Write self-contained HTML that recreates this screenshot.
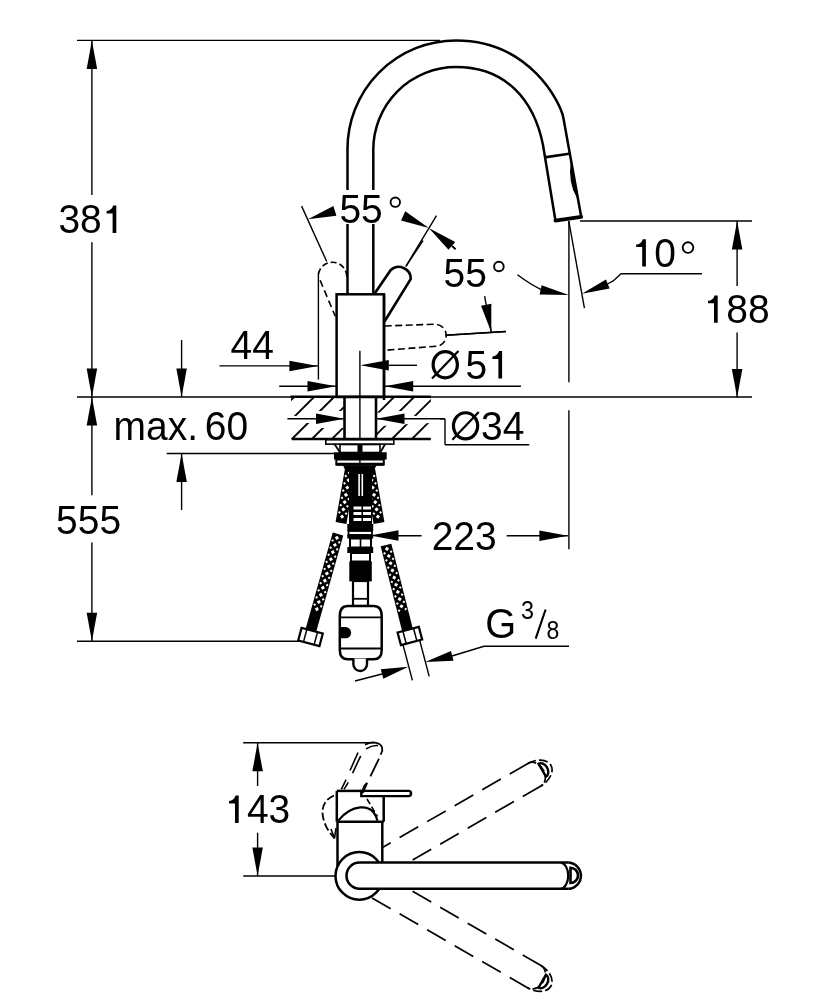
<!DOCTYPE html>
<html><head><meta charset="utf-8"><style>
html,body{margin:0;padding:0;background:#fff;}
svg{display:block;will-change:transform;}
text{font-family:"Liberation Sans",sans-serif;fill:#000;stroke:none;}
</style></head><body>
<svg width="834" height="1000" viewBox="0 0 834 1000" stroke="#000" fill="none">
<rect x="0" y="0" width="834" height="1000" fill="#fff" stroke="none"/>
<line x1="77.00" y1="40.40" x2="440.00" y2="40.40" stroke-width="1.4" />
<line x1="91.90" y1="40.40" x2="91.90" y2="195.00" stroke-width="1.4" />
<line x1="91.90" y1="242.30" x2="91.90" y2="397.00" stroke-width="1.4" />
<polygon points="91.90,40.40 97.15,68.90 86.65,68.90" fill="#000" stroke="none" />
<polygon points="91.90,397.00 86.65,368.50 97.15,368.50" fill="#000" stroke="none" />
<line x1="77.00" y1="397.00" x2="752.00" y2="397.00" stroke-width="1.4" />
<line x1="91.90" y1="397.00" x2="91.90" y2="495.30" stroke-width="1.4" />
<line x1="91.90" y1="542.50" x2="91.90" y2="641.30" stroke-width="1.4" />
<polygon points="91.90,397.00 97.15,425.50 86.65,425.50" fill="#000" stroke="none" />
<polygon points="91.90,641.30 86.65,612.80 97.15,612.80" fill="#000" stroke="none" />
<line x1="77.00" y1="641.30" x2="302.00" y2="641.30" stroke-width="1.4" />
<line x1="181.60" y1="340.00" x2="181.60" y2="397.00" stroke-width="1.4" />
<polygon points="181.60,397.00 176.35,368.50 186.85,368.50" fill="#000" stroke="none" />
<line x1="181.60" y1="453.50" x2="181.60" y2="510.00" stroke-width="1.4" />
<polygon points="181.60,453.50 186.85,482.00 176.35,482.00" fill="#000" stroke="none" />
<line x1="166.70" y1="453.50" x2="334.00" y2="453.50" stroke-width="1.4" />
<line x1="219.40" y1="365.90" x2="317.90" y2="365.90" stroke-width="1.4" />
<polygon points="317.90,365.90 289.40,371.15 289.40,360.65" fill="#000" stroke="none" />
<line x1="318.40" y1="273.00" x2="318.40" y2="379.50" stroke-width="1.4" />
<line x1="359.90" y1="350.80" x2="359.90" y2="470.00" stroke-width="1.4" />
<line x1="389.00" y1="365.30" x2="417.00" y2="365.30" stroke-width="1.4" />
<polygon points="360.30,365.30 388.80,360.05 388.80,370.55" fill="#000" stroke="none" />
<line x1="279.20" y1="386.20" x2="336.00" y2="386.20" stroke-width="1.4" />
<polygon points="336.00,386.20 307.50,391.45 307.50,380.95" fill="#000" stroke="none" />
<line x1="384.70" y1="386.20" x2="520.90" y2="386.20" stroke-width="1.4" />
<polygon points="384.70,386.20 413.20,380.95 413.20,391.45" fill="#000" stroke="none" />
<line x1="287.40" y1="418.80" x2="344.50" y2="418.80" stroke-width="1.4" />
<line x1="376.00" y1="418.80" x2="445.00" y2="418.80" stroke-width="1.4" />
<line x1="445.00" y1="418.80" x2="445.00" y2="444.70" stroke-width="1.4" />
<line x1="445.00" y1="444.70" x2="529.30" y2="444.70" stroke-width="1.4" />
<line x1="580.00" y1="221.00" x2="752.00" y2="221.00" stroke-width="1.4" />
<line x1="737.10" y1="221.00" x2="737.10" y2="286.10" stroke-width="1.4" />
<line x1="737.10" y1="332.40" x2="737.10" y2="397.50" stroke-width="1.4" />
<polygon points="737.10,221.00 742.35,249.50 731.85,249.50" fill="#000" stroke="none" />
<polygon points="737.10,397.50 731.85,369.00 742.35,369.00" fill="#000" stroke="none" />
<line x1="568.90" y1="221.00" x2="568.90" y2="382.30" stroke-width="1.4" />
<line x1="568.90" y1="410.30" x2="568.90" y2="549.20" stroke-width="1.4" />
<line x1="568.80" y1="221.00" x2="584.40" y2="308.20" stroke-width="1.4" />
<line x1="388.60" y1="535.80" x2="421.60" y2="535.80" stroke-width="1.4" />
<line x1="506.70" y1="535.80" x2="567.90" y2="535.80" stroke-width="1.4" />
<polygon points="567.90,535.80 539.40,541.05 539.40,530.55" fill="#000" stroke="none" />
<circle cx="688" cy="247.6" r="5.3" stroke-width="1.9" fill="none" />
<polyline points="607.50,284.00 613.20,280.90 621.00,273.70 702.00,273.70" stroke-width="1.4" fill="none" />
<polygon points="581.90,293.80 606.00,279.40 609.60,288.40" fill="#000" stroke="none" />
<path d="M517.4,274.7 Q530,284 541.2,289.6" stroke-width="1.4" fill="none" />
<polygon points="568.80,295.00 541.60,285.30 539.60,294.60" fill="#000" stroke="none" />
<circle cx="395.3" cy="202.2" r="4.7" stroke-width="1.9" fill="none" />
<line x1="301.60" y1="206.10" x2="326.70" y2="261.50" stroke-width="1.4" />
<polygon points="307.90,219.30 333.40,206.10 336.40,215.70" fill="#000" stroke="none" />
<line x1="436.50" y1="215.60" x2="406.00" y2="266.00" stroke-width="1.4" />
<polygon points="428.80,228.10 405.30,211.30 401.00,220.40" fill="#000" stroke="none" />
<polygon points="428.80,228.10 455.20,242.00 448.50,249.70" fill="#000" stroke="none" />
<line x1="452.00" y1="246.00" x2="455.70" y2="249.20" stroke-width="1.8" />
<circle cx="498.9" cy="266.5" r="4.8" stroke-width="1.9" fill="none" />
<line x1="484.60" y1="296.10" x2="491.30" y2="332.20" stroke-width="1.4" />
<polygon points="491.30,332.20 481.03,305.63 491.35,303.71" fill="#000" stroke="none" />
<line x1="445.50" y1="335.20" x2="505.90" y2="331.50" stroke-width="1.4" />
<path d="M347.5,294.3 L347.5,150 A108.5,108.5 0 0 1 456,40.5 C530,40.5 560.8,103.2 563.4,118 L581.2,216.7" stroke-width="2.5" fill="none" />
<path d="M373.3,294.3 L373.3,150 A82.7,82.7 0 0 1 456,67 C506,67 534,100 543,145 L555.4,220.3" stroke-width="2.5" fill="none" />
<line x1="544.60" y1="157.40" x2="569.20" y2="153.80" stroke-width="2.6" />
<path d="M555.4,220.6 L581.2,216.9" stroke-width="3.8" fill="none" stroke-linecap="round"/>
<path d="M571.3,162 Q568.6,183 577.2,197 L571.3,162 Z" stroke-width="1.2" fill="#000" />
<rect x="336.6" y="294.3" width="47.4" height="102.7" stroke-width="2.5" fill="none" />
<path d="M375,293 L390.6,270.2 A12,12 0 0 1 410.8,279 L384.5,321.5" stroke-width="2.6" fill="none" />
<line x1="405.80" y1="266.60" x2="423.00" y2="240.50" stroke-width="1.4" />
<path d="M318.4,274 A13,13 0 0 1 346.5,279" stroke-width="1.6" fill="none" stroke-dasharray="6 3"/>
<path d="M320.1,280.3 L335.3,316.3" stroke-width="1.6" fill="none" stroke-dasharray="7 4"/>
<path d="M384.7,326 L433.7,324.3 A11.2,11.2 0 0 1 438.7,346 L384.7,350.3" stroke-width="1.6" fill="none" stroke-dasharray="7 3.5"/>
<line x1="445.50" y1="335.20" x2="505.90" y2="331.50" stroke-width="1.4" />
<clipPath id="slabL"><rect x="291" y="397" width="53.5" height="42"/></clipPath>
<clipPath id="slabR"><rect x="376" y="397" width="54.8" height="42"/></clipPath>
<g stroke-width="1.9" clip-path="url(#slabL)"><line x1="252" y1="439" x2="294" y2="397"/><line x1="272" y1="439" x2="314" y2="397"/><line x1="292" y1="439" x2="334" y2="397"/><line x1="312" y1="439" x2="354" y2="397"/><line x1="332" y1="439" x2="374" y2="397"/><line x1="352" y1="439" x2="394" y2="397"/><line x1="372" y1="439" x2="414" y2="397"/><line x1="392" y1="439" x2="434" y2="397"/><line x1="412" y1="439" x2="454" y2="397"/><line x1="432" y1="439" x2="474" y2="397"/></g>
<g stroke-width="1.9" clip-path="url(#slabR)"><line x1="252" y1="439" x2="294" y2="397"/><line x1="272" y1="439" x2="314" y2="397"/><line x1="292" y1="439" x2="334" y2="397"/><line x1="312" y1="439" x2="354" y2="397"/><line x1="332" y1="439" x2="374" y2="397"/><line x1="352" y1="439" x2="394" y2="397"/><line x1="372" y1="439" x2="414" y2="397"/><line x1="392" y1="439" x2="434" y2="397"/><line x1="412" y1="439" x2="454" y2="397"/><line x1="432" y1="439" x2="474" y2="397"/></g>
<polygon points="285,416 312,416 316,411 346,411 346,428 316,428 312,423 285,423" fill="#fff" stroke="none"/>
<polygon points="374,413 404,410.8 412,416 440,416 440,422.5 406,424.2 386,425.8 374,425.8" fill="#fff" stroke="none"/>
<line x1="287.40" y1="418.80" x2="344.50" y2="418.80" stroke-width="1.4" />
<line x1="376.00" y1="418.80" x2="445.00" y2="418.80" stroke-width="1.4" />
<polygon points="344.50,418.80 316.00,424.05 316.00,413.55" fill="#000" stroke="none" />
<polygon points="376.00,418.80 404.50,413.55 404.50,424.05" fill="#000" stroke="none" />
<line x1="290.50" y1="396.70" x2="430.80" y2="396.70" stroke-width="2.6" />
<line x1="291.60" y1="439.00" x2="430.80" y2="439.00" stroke-width="2.6" />
<line x1="344.50" y1="397.00" x2="344.50" y2="439.00" stroke-width="2.6" />
<line x1="376.00" y1="397.00" x2="376.00" y2="439.00" stroke-width="2.6" />
<line x1="384.00" y1="294.00" x2="384.00" y2="400.00" stroke-width="2.5" />
<rect x="325.8" y="439.8" width="68" height="4.3" stroke-width="1.6" fill="#fff" />
<polyline points="334.40,444.00 340.00,452.30" stroke-width="1.8" fill="none" />
<polyline points="385.20,444.00 380.40,452.30" stroke-width="1.8" fill="none" />
<rect x="340" y="444.5" width="40" height="8" stroke-width="1.6" fill="none" />
<polygon points="357.50,444.00 362.50,444.00 362.50,452.30 357.50,452.30" fill="#000" stroke="none" />
<polygon points="334.00,452.30 386.70,452.30 386.70,459.50 334.00,459.50" fill="#000" stroke="none" />
<rect x="336.3" y="459.5" width="47.5" height="5" stroke-width="2" fill="none" />
<polygon points="336.30,462.80 383.80,462.80 383.80,465.70 336.30,465.70" fill="#000" stroke="none" />
<polygon points="343.00,465.50 376.70,465.50 374.00,469.50 345.00,469.50" fill="#000" stroke="none" />
<polygon points="345.08,468.05 335.58,522.05 346.42,523.95 355.92,469.95" fill="#000" stroke="none" />
<rect x="348.31" y="471.44" width="3" height="3" fill="#fff" stroke="none" transform="rotate(144.98 349.81 472.94)"/>
<rect x="351.51" y="476.17" width="2" height="2" fill="#fff" stroke="none" transform="rotate(144.98 352.51 477.17)"/>
<rect x="344.82" y="474.99" width="2" height="2" fill="#fff" stroke="none" transform="rotate(144.98 345.82 475.99)"/>
<rect x="347.02" y="478.73" width="3" height="3" fill="#fff" stroke="none" transform="rotate(144.98 348.52 480.23)"/>
<rect x="350.23" y="483.46" width="2" height="2" fill="#fff" stroke="none" transform="rotate(144.98 351.23 484.46)"/>
<rect x="343.54" y="482.28" width="2" height="2" fill="#fff" stroke="none" transform="rotate(144.98 344.54 483.28)"/>
<rect x="345.74" y="486.02" width="3" height="3" fill="#fff" stroke="none" transform="rotate(144.98 347.24 487.52)"/>
<rect x="348.95" y="490.75" width="2" height="2" fill="#fff" stroke="none" transform="rotate(144.98 349.95 491.75)"/>
<rect x="342.25" y="489.57" width="2" height="2" fill="#fff" stroke="none" transform="rotate(144.98 343.25 490.57)"/>
<rect x="344.46" y="493.30" width="3" height="3" fill="#fff" stroke="none" transform="rotate(144.98 345.96 494.80)"/>
<rect x="347.67" y="498.04" width="2" height="2" fill="#fff" stroke="none" transform="rotate(144.98 348.67 499.04)"/>
<rect x="340.97" y="496.86" width="2" height="2" fill="#fff" stroke="none" transform="rotate(144.98 341.97 497.86)"/>
<rect x="343.18" y="500.59" width="3" height="3" fill="#fff" stroke="none" transform="rotate(144.98 344.68 502.09)"/>
<rect x="346.39" y="505.32" width="2" height="2" fill="#fff" stroke="none" transform="rotate(144.98 347.39 506.32)"/>
<rect x="339.69" y="504.15" width="2" height="2" fill="#fff" stroke="none" transform="rotate(144.98 340.69 505.15)"/>
<rect x="341.90" y="507.88" width="3" height="3" fill="#fff" stroke="none" transform="rotate(144.98 343.40 509.38)"/>
<rect x="345.10" y="512.61" width="2" height="2" fill="#fff" stroke="none" transform="rotate(144.98 346.10 513.61)"/>
<rect x="338.41" y="511.43" width="2" height="2" fill="#fff" stroke="none" transform="rotate(144.98 339.41 512.43)"/>
<rect x="340.61" y="515.17" width="3" height="3" fill="#fff" stroke="none" transform="rotate(144.98 342.11 516.67)"/>
<polygon points="364.08,469.95 373.58,523.95 384.42,522.05 374.92,468.05" fill="#000" stroke="none" />
<rect x="368.69" y="471.44" width="3" height="3" fill="#fff" stroke="none" transform="rotate(125.02 370.19 472.94)"/>
<rect x="373.18" y="474.99" width="2" height="2" fill="#fff" stroke="none" transform="rotate(125.02 374.18 475.99)"/>
<rect x="366.49" y="476.17" width="2" height="2" fill="#fff" stroke="none" transform="rotate(125.02 367.49 477.17)"/>
<rect x="369.98" y="478.73" width="3" height="3" fill="#fff" stroke="none" transform="rotate(125.02 371.48 480.23)"/>
<rect x="374.46" y="482.28" width="2" height="2" fill="#fff" stroke="none" transform="rotate(125.02 375.46 483.28)"/>
<rect x="367.77" y="483.46" width="2" height="2" fill="#fff" stroke="none" transform="rotate(125.02 368.77 484.46)"/>
<rect x="371.26" y="486.02" width="3" height="3" fill="#fff" stroke="none" transform="rotate(125.02 372.76 487.52)"/>
<rect x="375.75" y="489.57" width="2" height="2" fill="#fff" stroke="none" transform="rotate(125.02 376.75 490.57)"/>
<rect x="369.05" y="490.75" width="2" height="2" fill="#fff" stroke="none" transform="rotate(125.02 370.05 491.75)"/>
<rect x="372.54" y="493.30" width="3" height="3" fill="#fff" stroke="none" transform="rotate(125.02 374.04 494.80)"/>
<rect x="377.03" y="496.86" width="2" height="2" fill="#fff" stroke="none" transform="rotate(125.02 378.03 497.86)"/>
<rect x="370.33" y="498.04" width="2" height="2" fill="#fff" stroke="none" transform="rotate(125.02 371.33 499.04)"/>
<rect x="373.82" y="500.59" width="3" height="3" fill="#fff" stroke="none" transform="rotate(125.02 375.32 502.09)"/>
<rect x="378.31" y="504.15" width="2" height="2" fill="#fff" stroke="none" transform="rotate(125.02 379.31 505.15)"/>
<rect x="371.61" y="505.32" width="2" height="2" fill="#fff" stroke="none" transform="rotate(125.02 372.61 506.32)"/>
<rect x="375.10" y="507.88" width="3" height="3" fill="#fff" stroke="none" transform="rotate(125.02 376.60 509.38)"/>
<rect x="379.59" y="511.43" width="2" height="2" fill="#fff" stroke="none" transform="rotate(125.02 380.59 512.43)"/>
<rect x="372.90" y="512.61" width="2" height="2" fill="#fff" stroke="none" transform="rotate(125.02 373.90 513.61)"/>
<rect x="376.39" y="515.17" width="3" height="3" fill="#fff" stroke="none" transform="rotate(125.02 377.89 516.67)"/>
<polygon points="349.00,469.00 372.00,469.00 372.00,524.00 349.00,524.00" fill="#000" stroke="none" />
<rect x="353.5" y="506.5" width="8" height="3" stroke-width="0" fill="#fff" />
<rect x="363" y="506.5" width="8" height="3" stroke-width="0" fill="#fff" />
<rect x="353.5" y="512" width="8" height="3" stroke-width="0" fill="#fff" />
<rect x="363" y="512" width="8" height="3" stroke-width="0" fill="#fff" />
<rect x="353.5" y="518" width="8" height="3" stroke-width="0" fill="#fff" />
<rect x="363" y="518" width="8" height="3" stroke-width="0" fill="#fff" />
<rect x="358.3" y="474" width="1.6" height="22" stroke-width="0" fill="#fff" />
<rect x="361.5" y="474" width="1.6" height="22" stroke-width="0" fill="#fff" />
<polygon points="347.30,524.00 373.20,524.00 373.20,531.00 347.30,531.00" fill="#000" stroke="none" />
<rect x="348.5" y="531" width="23.5" height="4" stroke-width="1.8" fill="#fff" />
<polygon points="347.30,534.50 373.20,534.50 373.20,538.50 347.30,538.50" fill="#000" stroke="none" />
<rect x="350" y="538.5" width="21" height="9" stroke-width="2" fill="#fff" />
<line x1="360.50" y1="538.50" x2="360.50" y2="547.50" stroke-width="1.6" />
<polygon points="347.30,547.00 373.20,547.00 373.20,553.00 347.30,553.00" fill="#000" stroke="none" />
<rect x="351" y="553" width="19" height="8.5" stroke-width="2" fill="#fff" />
<polygon points="349.30,561.40 371.80,561.40 371.80,581.40 349.30,581.40" fill="#000" stroke="none" />
<polygon points="370.00,535.50 398.50,530.25 398.50,540.75" fill="#000" stroke="none" />
<rect x="353" y="581" width="15" height="25" stroke-width="2.2" fill="#fff" />
<line x1="353.00" y1="598.80" x2="368.00" y2="598.80" stroke-width="1.8" />
<path d="M348,606 L373.5,606 Q381.7,606 381.7,616 L381.7,650 Q381.7,659.3 373.5,659.3 L348,659.3 Q339.8,659.3 339.8,650 L339.8,616 Q339.8,606 348,606 Z" stroke-width="2.5" fill="#fff" />
<line x1="340.00" y1="617.40" x2="381.50" y2="617.40" stroke-width="1.8" />
<line x1="340.00" y1="648.50" x2="381.50" y2="648.50" stroke-width="1.8" />
<path d="M340.5,627 L345.5,627 A5.6,5.6 0 0 1 345.5,638.3 L340.5,638.3 Z" stroke-width="0" fill="#000" />
<path d="M353.4,658.5 L353.4,664.2 A6.8,6.8 0 0 0 367,664.2 L367,658.5" stroke-width="2.4" fill="#fff" />
<polygon points="332.71,532.51 305.71,628.51 316.29,631.49 343.29,535.49" fill="#000" stroke="none" />
<rect x="335.42" y="536.35" width="3" height="3" fill="#fff" stroke="none" transform="rotate(150.71 336.92 537.85)"/>
<rect x="338.19" y="541.33" width="2" height="2" fill="#fff" stroke="none" transform="rotate(150.71 339.19 542.33)"/>
<rect x="331.64" y="539.49" width="2" height="2" fill="#fff" stroke="none" transform="rotate(150.71 332.64 540.49)"/>
<rect x="333.41" y="543.47" width="3" height="3" fill="#fff" stroke="none" transform="rotate(150.71 334.91 544.97)"/>
<rect x="336.18" y="548.46" width="2" height="2" fill="#fff" stroke="none" transform="rotate(150.71 337.18 549.46)"/>
<rect x="329.64" y="546.62" width="2" height="2" fill="#fff" stroke="none" transform="rotate(150.71 330.64 547.62)"/>
<rect x="331.41" y="550.60" width="3" height="3" fill="#fff" stroke="none" transform="rotate(150.71 332.91 552.10)"/>
<rect x="334.18" y="555.58" width="2" height="2" fill="#fff" stroke="none" transform="rotate(150.71 335.18 556.58)"/>
<rect x="327.64" y="553.74" width="2" height="2" fill="#fff" stroke="none" transform="rotate(150.71 328.64 554.74)"/>
<rect x="329.41" y="557.72" width="3" height="3" fill="#fff" stroke="none" transform="rotate(150.71 330.91 559.22)"/>
<rect x="332.18" y="562.70" width="2" height="2" fill="#fff" stroke="none" transform="rotate(150.71 333.18 563.70)"/>
<rect x="325.63" y="560.86" width="2" height="2" fill="#fff" stroke="none" transform="rotate(150.71 326.63 561.86)"/>
<rect x="327.40" y="564.85" width="3" height="3" fill="#fff" stroke="none" transform="rotate(150.71 328.90 566.35)"/>
<rect x="330.17" y="569.83" width="2" height="2" fill="#fff" stroke="none" transform="rotate(150.71 331.17 570.83)"/>
<rect x="323.63" y="567.99" width="2" height="2" fill="#fff" stroke="none" transform="rotate(150.71 324.63 568.99)"/>
<rect x="325.40" y="571.97" width="3" height="3" fill="#fff" stroke="none" transform="rotate(150.71 326.90 573.47)"/>
<rect x="328.17" y="576.95" width="2" height="2" fill="#fff" stroke="none" transform="rotate(150.71 329.17 577.95)"/>
<rect x="321.62" y="575.11" width="2" height="2" fill="#fff" stroke="none" transform="rotate(150.71 322.62 576.11)"/>
<rect x="323.40" y="579.09" width="3" height="3" fill="#fff" stroke="none" transform="rotate(150.71 324.90 580.59)"/>
<rect x="326.17" y="584.07" width="2" height="2" fill="#fff" stroke="none" transform="rotate(150.71 327.17 585.07)"/>
<rect x="319.62" y="582.23" width="2" height="2" fill="#fff" stroke="none" transform="rotate(150.71 320.62 583.23)"/>
<rect x="321.39" y="586.22" width="3" height="3" fill="#fff" stroke="none" transform="rotate(150.71 322.89 587.72)"/>
<rect x="324.16" y="591.20" width="2" height="2" fill="#fff" stroke="none" transform="rotate(150.71 325.16 592.20)"/>
<rect x="317.62" y="589.36" width="2" height="2" fill="#fff" stroke="none" transform="rotate(150.71 318.62 590.36)"/>
<rect x="319.39" y="593.34" width="3" height="3" fill="#fff" stroke="none" transform="rotate(150.71 320.89 594.84)"/>
<rect x="322.16" y="598.32" width="2" height="2" fill="#fff" stroke="none" transform="rotate(150.71 323.16 599.32)"/>
<rect x="315.61" y="596.48" width="2" height="2" fill="#fff" stroke="none" transform="rotate(150.71 316.61 597.48)"/>
<rect x="317.39" y="600.46" width="3" height="3" fill="#fff" stroke="none" transform="rotate(150.71 318.89 601.96)"/>
<rect x="320.16" y="605.45" width="2" height="2" fill="#fff" stroke="none" transform="rotate(150.71 321.16 606.45)"/>
<rect x="313.61" y="603.60" width="2" height="2" fill="#fff" stroke="none" transform="rotate(150.71 314.61 604.60)"/>
<rect x="315.38" y="607.59" width="3" height="3" fill="#fff" stroke="none" transform="rotate(150.71 316.88 609.09)"/>
<polygon points="380.67,546.35 402.17,631.35 412.83,628.65 391.33,543.65" fill="#000" stroke="none" />
<rect x="385.48" y="547.38" width="3" height="3" fill="#fff" stroke="none" transform="rotate(120.81 386.98 548.88)"/>
<rect x="390.18" y="550.63" width="2" height="2" fill="#fff" stroke="none" transform="rotate(120.81 391.18 551.63)"/>
<rect x="383.59" y="552.30" width="2" height="2" fill="#fff" stroke="none" transform="rotate(120.81 384.59 553.30)"/>
<rect x="387.30" y="554.55" width="3" height="3" fill="#fff" stroke="none" transform="rotate(120.81 388.80 556.05)"/>
<rect x="392.00" y="557.81" width="2" height="2" fill="#fff" stroke="none" transform="rotate(120.81 393.00 558.81)"/>
<rect x="385.41" y="559.47" width="2" height="2" fill="#fff" stroke="none" transform="rotate(120.81 386.41 560.47)"/>
<rect x="389.11" y="561.73" width="3" height="3" fill="#fff" stroke="none" transform="rotate(120.81 390.61 563.23)"/>
<rect x="393.81" y="564.98" width="2" height="2" fill="#fff" stroke="none" transform="rotate(120.81 394.81 565.98)"/>
<rect x="387.22" y="566.65" width="2" height="2" fill="#fff" stroke="none" transform="rotate(120.81 388.22 567.65)"/>
<rect x="390.92" y="568.90" width="3" height="3" fill="#fff" stroke="none" transform="rotate(120.81 392.42 570.40)"/>
<rect x="395.63" y="572.15" width="2" height="2" fill="#fff" stroke="none" transform="rotate(120.81 396.63 573.15)"/>
<rect x="389.04" y="573.82" width="2" height="2" fill="#fff" stroke="none" transform="rotate(120.81 390.04 574.82)"/>
<rect x="392.74" y="576.07" width="3" height="3" fill="#fff" stroke="none" transform="rotate(120.81 394.24 577.57)"/>
<rect x="397.44" y="579.33" width="2" height="2" fill="#fff" stroke="none" transform="rotate(120.81 398.44 580.33)"/>
<rect x="390.85" y="580.99" width="2" height="2" fill="#fff" stroke="none" transform="rotate(120.81 391.85 581.99)"/>
<rect x="394.55" y="583.25" width="3" height="3" fill="#fff" stroke="none" transform="rotate(120.81 396.05 584.75)"/>
<rect x="399.26" y="586.50" width="2" height="2" fill="#fff" stroke="none" transform="rotate(120.81 400.26 587.50)"/>
<rect x="392.67" y="588.17" width="2" height="2" fill="#fff" stroke="none" transform="rotate(120.81 393.67 589.17)"/>
<rect x="396.37" y="590.42" width="3" height="3" fill="#fff" stroke="none" transform="rotate(120.81 397.87 591.92)"/>
<rect x="401.07" y="593.68" width="2" height="2" fill="#fff" stroke="none" transform="rotate(120.81 402.07 594.68)"/>
<rect x="394.48" y="595.34" width="2" height="2" fill="#fff" stroke="none" transform="rotate(120.81 395.48 596.34)"/>
<rect x="398.18" y="597.60" width="3" height="3" fill="#fff" stroke="none" transform="rotate(120.81 399.68 599.10)"/>
<rect x="402.89" y="600.85" width="2" height="2" fill="#fff" stroke="none" transform="rotate(120.81 403.89 601.85)"/>
<rect x="396.29" y="602.52" width="2" height="2" fill="#fff" stroke="none" transform="rotate(120.81 397.29 603.52)"/>
<rect x="400.00" y="604.77" width="3" height="3" fill="#fff" stroke="none" transform="rotate(120.81 401.50 606.27)"/>
<rect x="404.70" y="608.02" width="2" height="2" fill="#fff" stroke="none" transform="rotate(120.81 405.70 609.02)"/>
<rect x="398.11" y="609.69" width="2" height="2" fill="#fff" stroke="none" transform="rotate(120.81 399.11 610.69)"/>
<g transform="rotate(15 310.5 637)"><rect x="299.5" y="630.5" width="22" height="13" stroke-width="2.2" fill="#fff"/><line x1="305" y1="630.5" x2="305" y2="643.5" stroke-width="1.5"/><line x1="316" y1="630.5" x2="316" y2="643.5" stroke-width="1.5"/></g>
<g transform="rotate(-15 410 636.5)"><rect x="399" y="629.5" width="22" height="13" stroke-width="2.2" fill="#fff"/><line x1="404.5" y1="629.5" x2="404.5" y2="642.5" stroke-width="1.5"/><line x1="415.5" y1="629.5" x2="415.5" y2="642.5" stroke-width="1.5"/></g>
<line x1="402.80" y1="644.00" x2="412.40" y2="680.40" stroke-width="1.4" />
<line x1="419.60" y1="640.00" x2="429.20" y2="676.40" stroke-width="1.4" />
<line x1="355.00" y1="681.00" x2="382.00" y2="674.00" stroke-width="1.4" />
<polygon points="408.40,666.80 380.80,669.20 383.30,678.80" fill="#000" stroke="none" />
<polygon points="425.20,662.00 451.00,651.00 453.50,660.80" fill="#000" stroke="none" />
<polyline points="452.00,656.00 484.00,646.30 569.00,646.30" stroke-width="1.4" fill="none" />
<line x1="535.70" y1="638.60" x2="545.60" y2="609.50" stroke-width="2.1" />
<line x1="243.20" y1="742.80" x2="374.70" y2="742.80" stroke-width="1.4" />
<line x1="243.20" y1="876.00" x2="336.00" y2="876.00" stroke-width="1.4" />
<line x1="257.60" y1="742.80" x2="257.60" y2="786.00" stroke-width="1.4" />
<line x1="257.60" y1="832.70" x2="257.60" y2="876.00" stroke-width="1.4" />
<polygon points="257.60,742.80 262.85,771.30 252.35,771.30" fill="#000" stroke="none" />
<polygon points="257.60,876.00 252.35,847.50 262.85,847.50" fill="#000" stroke="none" />
<line x1="336.80" y1="790.90" x2="336.80" y2="821.70" stroke-width="2.5" />
<line x1="336.80" y1="790.90" x2="361.30" y2="790.90" stroke-width="2.5" />
<path d="M361.3,790.9 L408.5,790.9 A2.6,2.6 0 0 1 408.5,796.1 L361.3,796.1 Z" stroke-width="2.4" fill="#fff" />
<line x1="383.70" y1="796.00" x2="383.70" y2="821.70" stroke-width="2.5" />
<line x1="336.80" y1="821.70" x2="383.70" y2="821.70" stroke-width="2.5" />
<path d="M338.2,820.6 C350,806 372,800 377.4,820.6" stroke-width="2.2" fill="none" />
<line x1="337.50" y1="821.70" x2="337.50" y2="866.00" stroke-width="2.5" />
<line x1="382.30" y1="821.70" x2="382.30" y2="866.00" stroke-width="2.5" />
<line x1="528.37" y1="763.19" x2="382.96" y2="847.14" stroke-width="1.7" stroke-dasharray="21.5 10.3"/>
<line x1="541.37" y1="785.71" x2="409.56" y2="861.81" stroke-width="1.7" stroke-dasharray="21.5 10.3"/>
<g transform="translate(534.87 774.45) rotate(-30.00)"><path d="M-1,-13 A19.5,13 0 0 1 -1,13" stroke-width="1.7" fill="none" stroke-dasharray="9 3"/><path d="M0,-13 A9.5,13 0 0 1 0,13" stroke-width="1.7" fill="none" stroke-dasharray="8 3.5"/><path d="M8.5,-7.5 A5.5,7.5 0 0 1 8.5,7.5 Z" stroke-width="2.4" fill="none"/></g>
<line x1="541.37" y1="965.69" x2="409.99" y2="889.84" stroke-width="1.7" stroke-dasharray="21.5 10.3"/>
<line x1="528.37" y1="988.21" x2="372.05" y2="897.96" stroke-width="1.7" stroke-dasharray="21.5 10.3"/>
<g transform="translate(534.87 976.95) rotate(30.00)"><path d="M-1,-13 A19.5,13 0 0 1 -1,13" stroke-width="1.7" fill="none" stroke-dasharray="9 3"/><path d="M0,-13 A9.5,13 0 0 1 0,13" stroke-width="1.7" fill="none" stroke-dasharray="8 3.5"/><path d="M8.5,-7.5 A5.5,7.5 0 0 1 8.5,7.5 Z" stroke-width="2.4" fill="none"/></g>
<circle cx="359.3" cy="875.9" r="23.8" stroke-width="2.5" fill="#fff" />
<path d="M568.8,862.6 L359.6,862.6 A13,13 0 0 0 359.6,888.8 L568.8,888.8" stroke-width="2.5" fill="#fff" />
<path d="M568.8,862.6 A13.3,13.15 0 0 1 568.8,888.8" stroke-width="2.5" fill="none" />
<path d="M560.9,862.6 A8,13.15 0 0 1 560.9,888.8" stroke-width="2.2" fill="none" />
<path d="M570.5,867.8 A7.5,7.6 0 0 1 570.5,883 Z" stroke-width="2.6" fill="none" />
<g stroke-width="1.7" fill="none">
<path d="M365,744.6 Q372,741.5 375,742.7 Q383,744 382.3,750.5 L380.7,754.8" stroke-width="1.8" fill="none" />
<path d="M366.1,748.9 Q372,745 378,745.6" stroke-width="1.6" fill="none" />
<line x1="379.00" y1="758.60" x2="370.40" y2="776.40" stroke-width="1.8" />
<line x1="367.20" y1="782.90" x2="362.90" y2="792.60" stroke-width="1.8" />
<line x1="358.00" y1="752.70" x2="350.00" y2="770.50" stroke-width="1.6" />
<line x1="360.70" y1="755.90" x2="352.60" y2="773.10" stroke-width="1.6" />
<line x1="346.10" y1="779.60" x2="341.30" y2="789.30" stroke-width="1.6" />
<line x1="348.30" y1="782.30" x2="344.00" y2="789.30" stroke-width="1.6" />
<path d="M334,795.5 Q322,801 322.5,813 Q323.5,827 334.5,838" stroke-width="1.8" fill="none" stroke-dasharray="8 3"/>
<polyline points="331.00,829.00 334.50,838.50 336.00,828.00" stroke-width="1.6" fill="none" />
<path d="M362.7,793.3 Q362,787 367,782.8" stroke-width="1.6" fill="none" />
<line x1="367.00" y1="799.00" x2="377.40" y2="816.40" stroke-width="1.6" stroke-dasharray="6 3"/>
</g>
<text x="0" y="0" font-size="39" text-anchor="start" transform="translate(58.4 233.2) scale(1.0 1.035)" >38</text>
<path d="M116.30,233.00 L116.30,205.60 L113.20,205.60 Q111.70,210.60 106.60,211.00 L106.60,213.40 L112.60,213.40 L112.60,233.00 Z" fill="#000" stroke="none"/>
<text x="0" y="0" font-size="39" text-anchor="middle" transform="translate(88.6 534) scale(1.0 1.035)" >555</text>
<text x="0" y="0" font-size="39" text-anchor="start" transform="translate(113.5 439.6) scale(1.0 1.035)" >max.</text>
<text x="0" y="0" font-size="39" text-anchor="start" transform="translate(204.8 439.6) scale(1.0 1.035)" >60</text>
<text x="0" y="0" font-size="39" text-anchor="start" transform="translate(230.6 358.7) scale(1.0 1.035)" >44</text>
<ellipse cx="445.25" cy="364.7" rx="12.1" ry="13.1" stroke-width="3.2" fill="none"/>
<line x1="432.05" y1="378.50" x2="458.45" y2="350.90" stroke-width="2.2"/>
<text x="0" y="0" font-size="39" text-anchor="start" transform="translate(465.5 378.6) scale(1.0 1.035)" >5</text>
<path d="M502.10,378.50 L502.10,351.10 L499.00,351.10 Q497.50,356.10 492.40,356.50 L492.40,358.90 L498.40,358.90 L498.40,378.50 Z" fill="#000" stroke="none"/>
<ellipse cx="465.55" cy="425.85" rx="12.1" ry="13.1" stroke-width="3.2" fill="none"/>
<line x1="452.35" y1="439.65" x2="478.75" y2="412.05" stroke-width="2.2"/>
<text x="0" y="0" font-size="39" text-anchor="start" transform="translate(481 439.5) scale(1.0 1.035)" >34</text>
<text x="0" y="0" font-size="39" text-anchor="start" transform="translate(726.2 323.3) scale(1.0 1.035)" >88</text>
<path d="M717.70,322.80 L717.70,295.40 L714.60,295.40 Q713.10,300.40 708.00,300.80 L708.00,303.20 L714.00,303.20 L714.00,322.80 Z" fill="#000" stroke="none"/>
<text x="0" y="0" font-size="39" text-anchor="middle" transform="translate(464.2 549.9) scale(1.0 1.035)" >223</text>
<text x="0" y="0" font-size="39" text-anchor="start" transform="translate(654.3 266.9) scale(1.0 1.035)" >0</text>
<path d="M645.90,266.60 L645.90,239.20 L642.80,239.20 Q641.30,244.20 636.20,244.60 L636.20,247.00 L642.20,247.00 L642.20,266.60 Z" fill="#000" stroke="none"/>
<rect x="339" y="190" width="44" height="34" fill="#fff" stroke="none"/>
<text x="0" y="0" font-size="39" text-anchor="start" transform="translate(339.4 222.7) scale(1.0 1.035)" >55</text>
<text x="0" y="0" font-size="39" text-anchor="start" transform="translate(443.6 287.3) scale(1.0 1.035)" >55</text>
<text x="0" y="0" font-size="39" text-anchor="start" transform="translate(485.2 638.3) scale(1.02 1.076)" >G</text>
<text x="0" y="0" font-size="23.4" text-anchor="start" transform="translate(521 619.2) scale(1.0 1.1)" >3</text>
<text x="0" y="0" font-size="23" text-anchor="start" transform="translate(546.4 638.65) scale(1.0 1.086)" >8</text>
<text x="0" y="0" font-size="39" text-anchor="start" transform="translate(246.9 823) scale(1.0 1.035)" >43</text>
<path d="M238.70,823.00 L238.70,795.60 L235.60,795.60 Q234.10,800.60 229.00,801.00 L229.00,803.40 L235.00,803.40 L235.00,823.00 Z" fill="#000" stroke="none"/>
</svg></body></html>
